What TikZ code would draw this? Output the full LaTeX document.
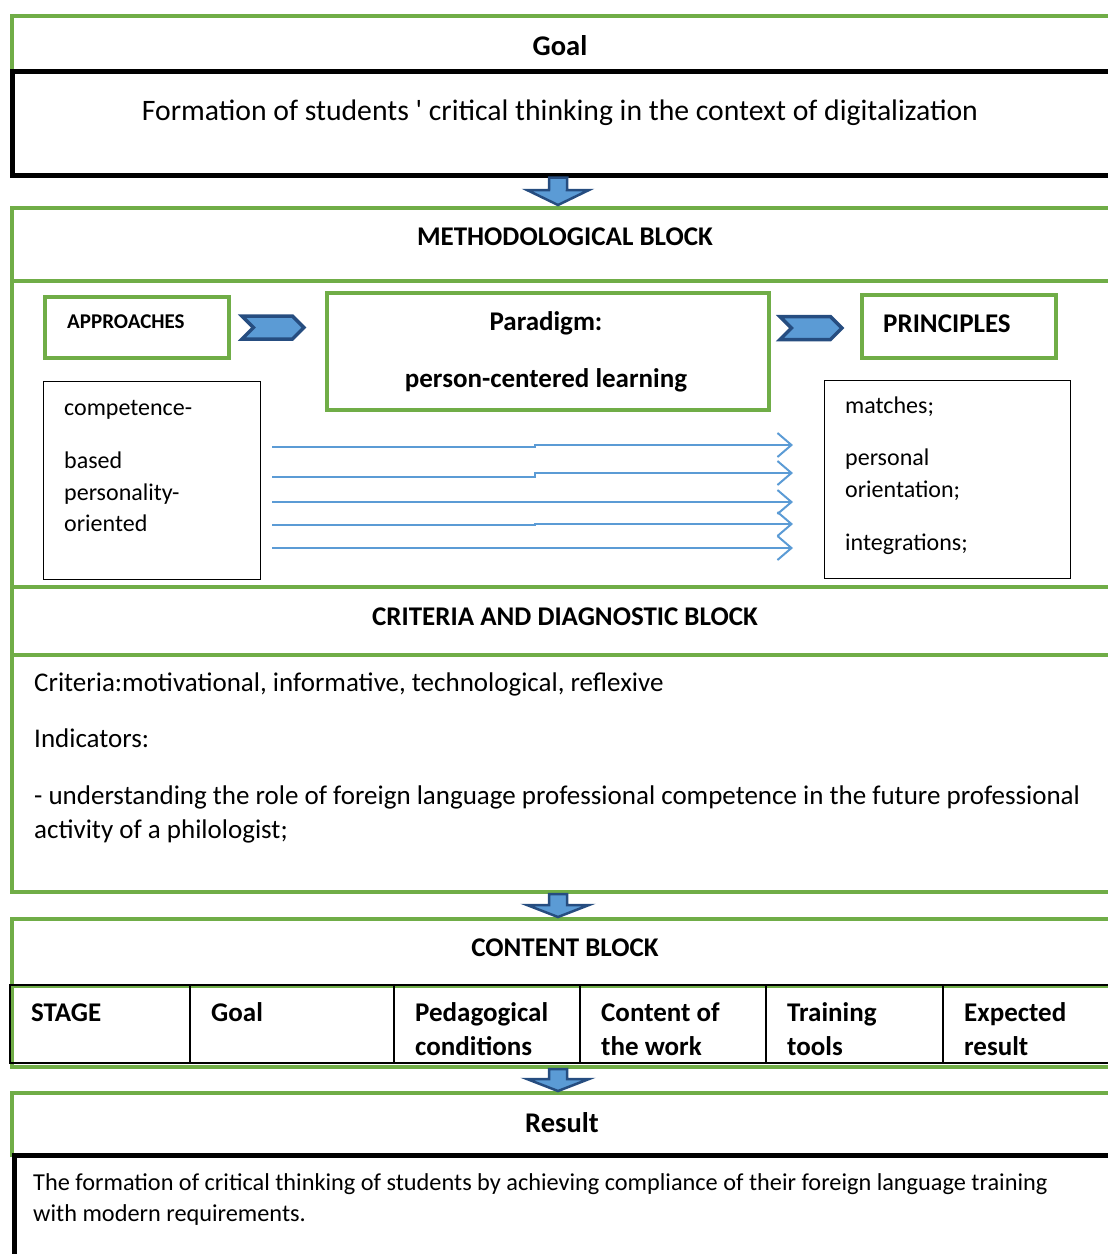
\documentclass[tikz,border=0pt]{standalone}
\usepackage{fontspec}
\setmainfont{Carlito}
\usetikzlibrary{arrows.meta,positioning,shapes.symbols}
\definecolor{frgreen}{RGB}{112,173,71}
\definecolor{arrfill}{RGB}{91,155,213}
\definecolor{arrline}{RGB}{38,77,128}
\definecolor{flowblue}{RGB}{91,155,213}

\begin{document}
\begin{tikzpicture}[x=1pt,y=-1pt,
% common options for the green frames:
frame/.style = {draw=frgreen, line width=4pt, anchor=north west, inner sep=0},
% thick black frames:
bframe/.style = {draw=black, line width=4.5pt, anchor=north west, inner sep=0},
% thin black boxes:
thinbox/.style = {draw=black, line width=1.2pt, anchor=north west, inner sep=0},
% table cells:
cell/.style = {draw=black, line width=2pt, anchor=north west, inner sep=0,
            outer sep=0, minimum height=78},
% headings and texts:
head/.style = {font=\fontsize{27}{32}\selectfont\bfseries, anchor=base, inner sep=0},
thead/.style = {font=\fontsize{27}{32}\selectfont\bfseries, anchor=base west, inner sep=0},
txt/.style = {font=\fontsize{24}{29}\selectfont, anchor=base west, inner sep=0},
bodytxt/.style = {font=\fontsize{27}{32}\selectfont, anchor=base west, inner sep=0},
% chevrons and block arrows:
chev/.style = {signal, signal from=west, signal to=east, draw=arrline, fill=arrfill,
            line width=3.5pt, minimum width=62, minimum height=23, inner sep=0},
blockarr/.style = {draw=arrline, fill=arrfill, line width=2.5pt, line join=miter},
flow/.style = {draw=flowblue, line width=2pt, -{Straight Barb[length=14pt,width=24pt]}},
node distance=0pt]
\useasboundingbox (0,0) rectangle (1108,1254);
\clip (0,0) rectangle (1108,1254);

% Goal
\node[frame, minimum width=1102, minimum height=55] (goalhead) at (10,14) {};
\node[bframe, minimum width=1102, minimum height=104] (goalbox) at (10,69) {};
\node[head, font=\fontsize{28.5}{34}\selectfont\bfseries] (goaltitle) at (560,55) {Goal};
\node[bodytxt, anchor=base, font=\fontsize{29.7}{35}\selectfont] (goaltext) at (560,120) {Formation of students \textquotesingle{} critical thinking in the context of digitalization};

% Methodological block
\node[frame, minimum width=1102, minimum height=73] (methhead) at (10,206) {};
\node[frame, minimum width=1102, minimum height=306] (methbody) at (10,279) {};
\node[head] (methtitle) at (565,245) {METHODOLOGICAL BLOCK};

\node[frame, minimum width=184, minimum height=61] (appr) at (43,295) {};
\node[thead, font=\fontsize{21}{25}\selectfont\bfseries] (apprtitle) at (67,328) {APPROACHES};
\node[frame, minimum width=442, minimum height=117] (parad) at (325,291) {};
\node[head] (paradtitle) at (546,330) {Paradigm:};
\node[head] (paradtext) at (546,387) {person-centered learning};
\node[frame, minimum width=194, minimum height=63] (princ) at (860,293) {};
\node[thead] (princtitle) at (883,332) {PRINCIPLES};

\node[chev, right=20pt of appr] (chevA) {};
\node[chev, anchor=west] (chevB) at ([shift={(18,37)}]parad.north east) {};

\node[thinbox, minimum width=217, minimum height=198] (alist) at (43,381) {};
\node[txt] (a1) at (64,415) {competence-};
\node[txt] (a2) at (64,468) {based};
\node[txt] (a3) at (64,500) {personality-};
\node[txt] (a4) at (64,531) {oriented};

\node[thinbox, minimum width=246, minimum height=198] (plist) at (824,380) {};
\node[txt] (p1) at (845,413) {matches;};
\node[txt] (p2) at (845,465) {personal};
\node[txt] (p3) at (845,497) {orientation;};
\node[txt] (p4) at (845,550) {integrations;};

\foreach \ya/\yb in {66/65, 96/93, 121/122, 144/144, 167/168}
  \draw[flow] ([shift={(11,\ya)}]alist.north east) -- ++(263,0)
    |- ([shift={(-31,\yb)}]plist.north west);

% Criteria and diagnostic block
\node[frame, minimum width=1102, minimum height=68] (crithead) at (10,585) {};
\node[frame, minimum width=1102, minimum height=237] (critbody) at (10,653) {};
\node[head] (crittitle) at (565,625) {CRITERIA AND DIAGNOSTIC BLOCK};
\node[bodytxt] (c1) at (34,691) {Criteria:motivational, informative, technological, reflexive};
\node[bodytxt] (c2) at (34,747) {Indicators:};
\node[bodytxt] (c3) at (34,804) {- understanding the role of foreign language professional competence in the future professional};
\node[bodytxt] (c4) at (34,838) {activity of a philologist;};

% Content block
\node[frame, minimum width=1102, minimum height=67] (conthead) at (10,917) {};
\node[frame, minimum width=1102, minimum height=81] (contbody) at (10,984) {};
\node[head] (conttitle) at (565,956) {CONTENT BLOCK};

\node[cell, minimum width=180] (stage) at (10,985) {};
\node[cell, minimum width=204, right=of stage] (goalcol) {};
\node[cell, minimum width=186, right=of goalcol] (condcol) {};
\node[cell, minimum width=186, right=of condcol] (workcol) {};
\node[cell, minimum width=177, right=of workcol] (toolcol) {};
\node[cell, minimum width=180, right=of toolcol] (rescol) {};

\begin{scope}
\clip (10,985) rectangle (1108,1056);
\node[thead] (t1) at ([shift={(21,36)}]stage.north west) {STAGE};
\node[thead] (t2) at ([shift={(21,36)}]goalcol.north west) {Goal};
\node[thead] (t3) at ([shift={(21,36)}]condcol.north west) {Pedagogical};
\node[thead] (t3b) at ([shift={(21,70)}]condcol.north west) {conditions};
\node[thead] (t4) at ([shift={(21,36)}]workcol.north west) {Content of};
\node[thead] (t4b) at ([shift={(21,70)}]workcol.north west) {the work};
\node[thead] (t5) at ([shift={(21,36)}]toolcol.north west) {Training};
\node[thead] (t5b) at ([shift={(21,70)}]toolcol.north west) {tools};
\node[thead] (t6) at ([shift={(21,36)}]rescol.north west) {Expected};
\node[thead] (t6b) at ([shift={(21,70)}]rescol.north west) {result};
\end{scope}

% Result
\node[frame, minimum width=1102, minimum height=62] (reshead) at (10,1091) {};
\node[bframe, minimum width=1100, minimum height=130] (resbox) at (12,1153) {};
\node[head, font=\fontsize{28.5}{34}\selectfont\bfseries] (restitle) at (562,1132) {Result};
\node[txt, font=\fontsize{24.3}{29}\selectfont] (r1) at (33,1190) {The formation of critical thinking of students by achieving compliance of their foreign language training};
\node[txt, font=\fontsize{24.3}{29}\selectfont] (r2) at (33,1221) {with modern requirements.};

% block arrows between the blocks
\draw[blockarr] ([xshift=-14pt]goalbox.south) -- ([shift={(-14,-16)}]methhead.north)
  -- ++(-22,0) -- ([shift={(-5,-1)}]methhead.north) -- ++(31,-15) -- ++(-22,0)
  -- ([xshift=4pt]goalbox.south) -- cycle;
\draw[blockarr] ([xshift=-14pt]critbody.south) -- ([shift={(-14,-12)}]conthead.north)
  -- ++(-22,0) -- ([shift={(-5,0)}]conthead.north) -- ++(31,-12) -- ++(-22,0)
  -- ([xshift=4pt]critbody.south) -- cycle;
\draw[blockarr] ([xshift=-14pt]contbody.south) -- ([shift={(-14,-12)}]reshead.north)
  -- ++(-22,0) -- ([shift={(-5,0)}]reshead.north) -- ++(31,-12) -- ++(-22,0)
  -- ([xshift=4pt]contbody.south) -- cycle;
\end{tikzpicture}
\end{document}
